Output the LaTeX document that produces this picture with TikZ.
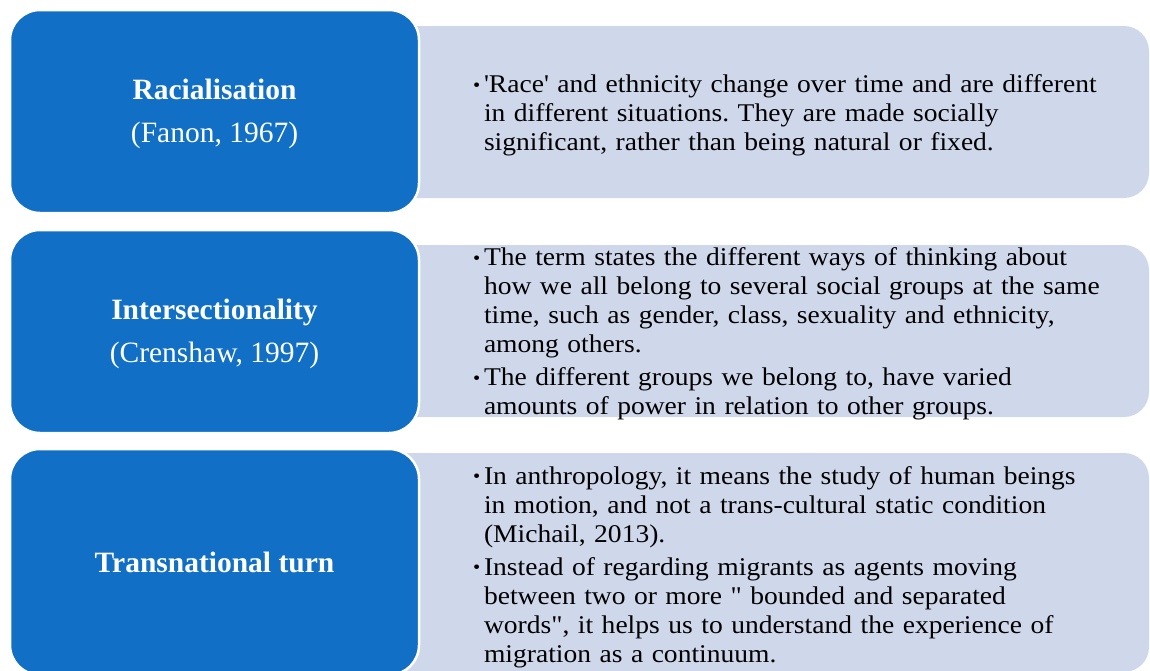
\documentclass[tikz,border=0pt]{standalone}
\usepackage{fontspec}
\setmainfont{Liberation Serif}
\newfontfamily\widefont[FakeStretch=1.08]{Liberation Serif}
\usepackage{xcolor}
\usetikzlibrary{positioning}
\definecolor{termblue}{RGB}{17,112,198}
\definecolor{notegrey}{RGB}{207,216,235}
\newcommand{\bul}{\par\hangindent=11pt\hangafter=1\noindent
    \makebox[11pt][l]{\raisebox{1.5pt}{\fontsize{19}{19}\selectfont •}}}
\tikzset{
        term/.style = {draw=white, line width=2.5pt, fill=termblue,
            rectangle, rounded corners=30pt,
            minimum width=409pt, text=white, align=center,
            font=\fontsize{29.5}{43}\selectfont},
        note/.style = {fill=notegrey, rectangle, rounded corners=25pt,
            minimum width=819pt},
        bullets/.style = {inner sep=0pt, text width=680pt, align=left,
            font=\widefont\fontsize{25.5}{29}\selectfont\frenchspacing},
    }

\begin{document}
\begin{tikzpicture}[x=1pt,y=-1pt]
    \useasboundingbox (0,0) rectangle (1150,670);
    \clip (0,0) rectangle (1150,670);

    \node[note, minimum height=172pt] (g1) at (739.5,112) {};
    \node[note, minimum height=172pt] (g2) at (739.5,331) {};
    \node[note, minimum height=219pt] (g3) at (739.5,562.5) {};

    \node[term, minimum height=203pt] (b1) at (214.5,111.5)
        {\rule{0pt}{26pt}\textbf{Racialisation}\\(Fanon, 1967)};
    \node[term, minimum height=203pt] (b2) at (214.5,331.5)
        {\rule{0pt}{26pt}\textbf{Intersectionality}\\(Crenshaw, 1997)};
    \node[term, minimum height=226pt] (b3) at (214.5,562)
        {\textbf{Transnational turn}};

    \node[bullets, right=143pt of g1.west, yshift=2pt] (t1) {%
        \bul'Race' and ethnicity change over time and are different\newline
        in different situations. They are made socially\newline
        significant, rather than being natural or fixed.\par};
    \node[bullets, right=143pt of g2.west, yshift=2.5pt] (t2) {%
        \bul The term states the different ways of thinking about\newline
        how we all belong to several social groups at the same\newline
        time, such as gender, class, sexuality and ethnicity,\newline
        among others.\par\vspace{4pt}
        \bul The different groups we belong to, have varied\newline
        amounts of power in relation to other groups.\par};
    \node[bullets, right=143pt of g3.west, yshift=1pt] (t3) {%
        \bul In anthropology, it means the study of human beings\newline
        in motion, and not a trans-cultural static condition\newline
        (Michail, 2013).\par\vspace{4pt}
        \bul Instead of regarding migrants as agents moving\newline
        between two or more " bounded and separated\newline
        words", it helps us to understand the experience of\newline
        migration as a continuum.\par};
\end{tikzpicture}
\end{document}
